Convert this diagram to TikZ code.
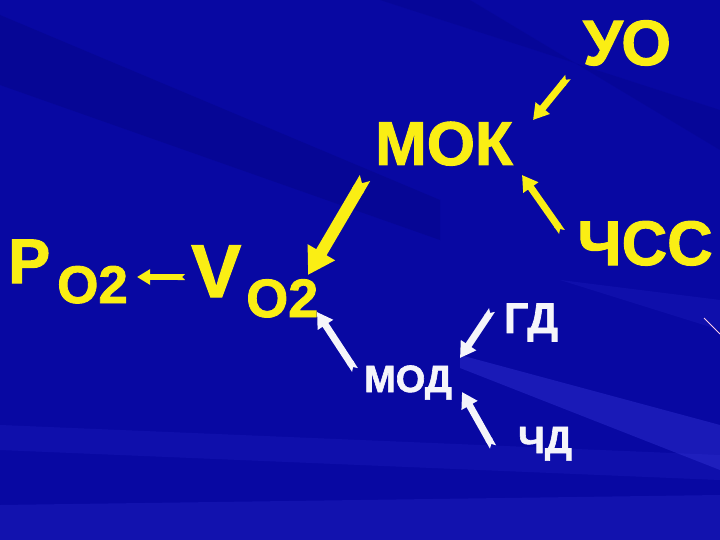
\documentclass[tikz,border=0pt]{standalone}
\usepackage{fontspec}
\setmainfont{Liberation Sans}[BoldFeatures={FakeBold=1.6}]
\usetikzlibrary{arrows.meta}

\definecolor{bgblue}{RGB}{8,8,162}
\definecolor{darkband}{RGB}{0,0,100}
\definecolor{lightband}{RGB}{60,60,225}
\definecolor{txtyellow}{RGB}{250,238,20}
\definecolor{txtwhite}{RGB}{245,245,250}

\begin{document}
\begin{tikzpicture}[x=1pt,y=-1pt,
    lbl/.style={inner sep=0pt, anchor=base, font=\bfseries\fontsize{#1}{#1}\selectfont},
    ylbl/.style={lbl=#1, text=txtyellow},
    wlbl/.style={lbl=#1, text=txtwhite},
    notched/.style={line width=#1, {Triangle Cap[reversed]}-{Triangle[length=0pt 2.2, width=0pt 2.5]}},
    yarr/.style={notched=#1, draw=txtyellow},
    warr/.style={notched=#1, draw=txtwhite}]
    \useasboundingbox (0,0) rectangle (720,540);

    % Background
    \fill[bgblue] (0,0) rectangle (720,540);
    \fill[darkband, opacity=.2] (0,15) -- (0,85) -- (440,240) -- (440,200) -- cycle;
    \fill[darkband, opacity=.15] (380,0) -- (470,0) -- (720,150) -- (720,110) -- cycle;
    \fill[lightband, opacity=.35] (460,355) -- (720,425) -- (720,470) -- (460,368) -- cycle;
    \fill[lightband, opacity=.15] (0,425) -- (720,455) -- (720,480) -- (0,450) -- cycle;
    \fill[lightband, opacity=.2] (0,505) -- (720,495) -- (720,540) -- (0,540) -- cycle;
    \fill[lightband, opacity=.15] (560,280) -- (720,300) -- (720,330) -- cycle;
    \draw[white!80!magenta, line width=1pt] (704,318) -- (720,334);

    % Labels
    \node[ylbl=64] (uo) at (627,65) {УО};
    \node[ylbl=62] (mok) at (444,165) {МОК};
    \node[ylbl=63] (chss) at (645,265) {ЧСС};
    \node[wlbl=43] (gd) at (531,333) {ГД};
    \node[wlbl=38] (mod) at (408,392) {МОД};
    \node[wlbl=38] (chd) at (545,453) {ЧД};
    \node[ylbl=63, anchor=base west] (po2) at (8,283)
        {P\hspace{7pt}\raisebox{-20pt}{\fontsize{53}{53}\selectfont O2}};
    \node[ylbl=75, anchor=base west] (vo2) at (191,297)
        {V\hspace{5pt}\raisebox{-20pt}{\fontsize{54}{54}\selectfont O2}};

    % Arrows
    \draw[yarr=7pt] ([shift={(-59,12)}]uo.base) -- ([shift={(89,-45)}]mok.base);
    \draw[yarr=7pt] ([shift={(-83,-33)}]chss.base) -- ([shift={(78,10)}]mok.base);
    \draw[yarr=12pt] ([shift={(-79,13)}]mok.base) -- ([shift={(117,-22)}]vo2.base west);
    \draw[yarr=6pt] ([shift={(-6,-20)}]vo2.base west) -- ([shift={(129,-6)}]po2.base west);
    \draw[warr=7pt] ([shift={(-53,-22)}]mod.base) -- ([shift={(126,15)}]vo2.base west);
    \draw[warr=7pt] ([shift={(-39,-23)}]gd.base) -- ([shift={(52,-34)}]mod.base);
    \draw[warr=7pt] ([shift={(-52,-6)}]chd.base) -- ([shift={(54,0)}]mod.base);
\end{tikzpicture}
\end{document}
